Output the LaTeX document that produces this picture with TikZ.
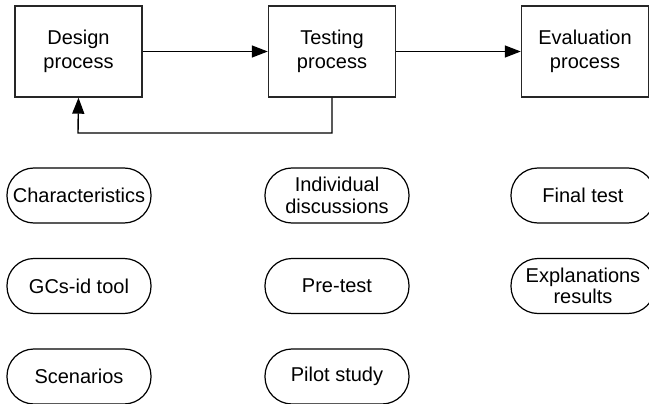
\documentclass[tikz,border=0pt]{standalone}
\usepackage{fontspec}
\setmainfont{Liberation Sans}
\usetikzlibrary{arrows.meta}
\begin{document}
\begin{tikzpicture}[x=1pt,y=-1pt,
  procbox/.style={draw=black!85, line width=1.4pt, minimum width=127pt, minimum height=91pt, inner sep=0pt,
    align=center, font=\fontsize{20}{24}\selectfont},
  pill/.style={draw=black, line width=1.2pt, rounded corners=27pt, minimum width=144pt, minimum height=55pt,
    inner sep=0pt, align=center, font=\fontsize{20}{21.5}\selectfont},
  arr/.style={line width=1.4pt, -{Triangle[length=16pt,width=12pt]}}]
\useasboundingbox (0,0) rectangle (649,404);
\node[procbox] (design) at (78.5,51.5) {Design\\process};
\node[procbox] (testing) at (332,51.5) {Testing\\process};
\node[procbox] (eval) at (585,51.5) {Evaluation\\process};
\draw[arr] (design) -- (testing);
\draw[arr] (testing) -- (eval);
\coordinate (c1) at (332,133);
\coordinate (c2) at (78,133);
\draw[arr] (testing.south) -- (c1) -- (c2) -- (design.south);
\node[pill] (charac) at (79,195.5) {Characteristics};
\node[pill] (gcs) at (79,286) {GCs-id tool};
\node[pill] (scen) at (79,376.5) {Scenarios};
\node[pill] (indiv) at (337,195.5) {Individual\\discussions};
\node[pill] (pre) at (337,286) {Pre-test};
\node[pill] (pilot) at (337,376.5) {Pilot study};
\node[pill] (final) at (583,195.5) {Final test};
\node[pill] (expl) at (583,286) {Explanations\\results};
\end{tikzpicture}
\end{document}
